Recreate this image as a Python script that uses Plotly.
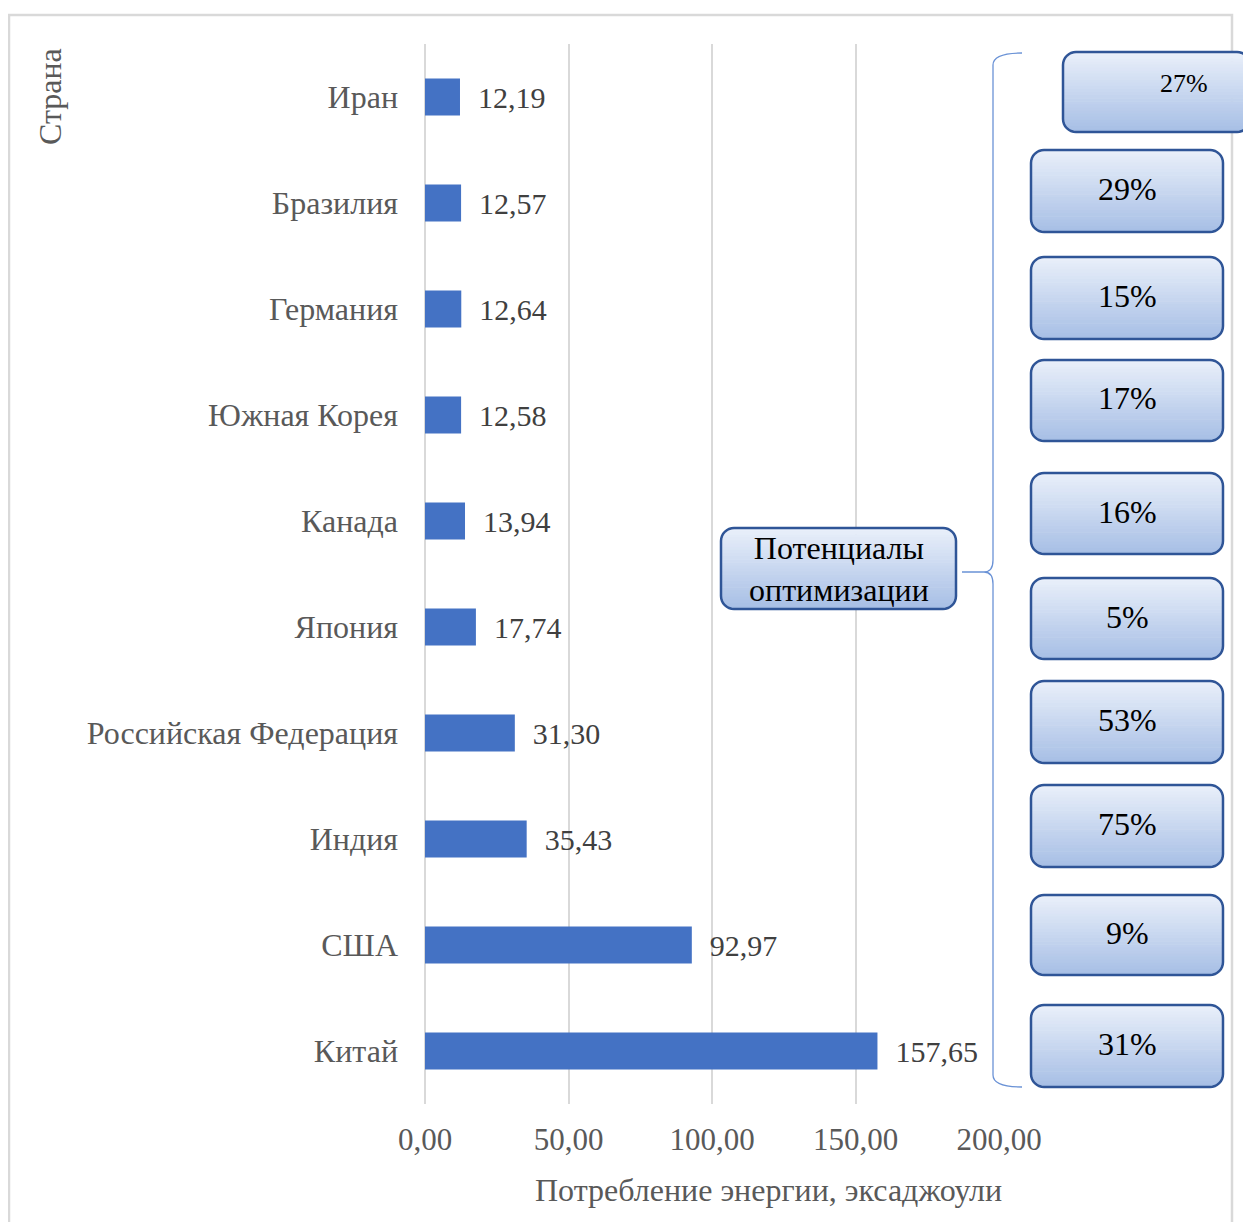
import math
import plotly.graph_objects as go

# ---------------- data ----------------
countries = ["Иран", "Бразилия", "Германия", "Южная Корея", "Канада", "Япония",
             "Российская Федерация", "Индия", "США", "Китай"]
energy = [12.19, 12.57, 12.64, 12.58, 13.94, 17.74, 31.30, 35.43, 92.97, 157.65]
potential = [27, 29, 15, 17, 16, 5, 53, 75, 9, 31]
x_ticks = [0, 50, 100, 150, 200]

x_title = "Потребление энергии, эксаджоули"
y_title = "Страна"
callout = "Потенциалы<br>оптимизации"

# ---------------- layout constants (page pixels) ----------------
OFF = 8  # page body margin
W, H = 1251 - OFF, 1222 - OFF
PL, PR, PT, PB = 425, 999, 44, 1104  # plot area in page pixels


def px(x):
    return (x - PL) / (PR - PL)


def py(y):
    return (PB - y) / (PB - PT)


FONT = "Liberation Serif, Times New Roman, serif"

# box rects for potentials (x0, y0, x1, y1) in px
box_rects = [(1063, 52, 1250, 132)] + [
    (1031, t, 1223, b) for t, b in [(150, 232), (257, 339), (360, 441), (473, 554),
                                    (578, 659), (681, 763), (785, 867), (895, 975),
                                    (1005, 1087)]]
callout_rect = (721, 528, 956, 609)

TOP_C = (234, 240, 250)
BOT_C = (166, 190, 229)
BORDER = "#2F5597"

shapes = []

# outer frame (bottom edge lies below the visible page)
shapes.append(dict(type="rect", xref="paper", yref="paper",
                   x0=px(9), x1=px(1232), y0=py(15), y1=py(1240),
                   line=dict(color="#D9D9D9", width=2.5), fillcolor="rgba(0,0,0,0)",
                   layer="below"))


def inset(y, y0, y1, r):
    d = max(0.0, (y0 + r) - y, y - (y1 - r))
    d = min(d, r)
    return r - math.sqrt(max(r * r - d * d, 0.0))


def gradient_box(rect, r=13, n=26):
    x0, y0, x1, y1 = rect
    hgt = y1 - y0
    for i in range(n):
        ya = y0 + hgt * i / n
        yb = min(y0 + hgt * (i + 1) / n + 0.6, y1)
        t = (i + 0.5) / n
        c = tuple(int(round(TOP_C[k] + (BOT_C[k] - TOP_C[k]) * t)) for k in range(3))
        ys = [ya + (yb - ya) * j / 4 for j in range(5)]
        left = [(x0 + inset(y, y0, y1, r), y) for y in ys]
        right = [(x1 - inset(y, y0, y1, r), y) for y in reversed(ys)]
        pts = left + right
        path = "M " + " L ".join(f"{px(a):.5f},{py(b):.5f}" for a, b in pts) + " Z"
        shapes.append(dict(type="path", xref="paper", yref="paper", path=path,
                           fillcolor=f"rgb{c}", line=dict(width=0), layer="above"))
    # border: rounded rect
    segs = []
    k = 8
    corners = [((x1 - r, y0 + r), -90, 0), ((x1 - r, y1 - r), 0, 90),
               ((x0 + r, y1 - r), 90, 180), ((x0 + r, y0 + r), 180, 270)]
    for (cx, cy), a0, a1 in corners:
        for j in range(k + 1):
            a = math.radians(a0 + (a1 - a0) * j / k)
            segs.append((cx + r * math.cos(a), cy + r * math.sin(a)))
    path = "M " + " L ".join(f"{px(a):.5f},{py(b):.5f}" for a, b in segs) + " Z"
    shapes.append(dict(type="path", xref="paper", yref="paper", path=path,
                       fillcolor="rgba(0,0,0,0)", line=dict(color=BORDER, width=2.5),
                       layer="above"))


for rect in box_rects:
    gradient_box(rect)
gradient_box(callout_rect)

# brace
btop, bbot, bmid, btip = 53, 1087, 572, 962
brace = [
    ("M", 1022, btop),
    ("Q", 993, btop, 993, btop + 12),
    ("L", 993, bmid - 12),
    ("Q", 993, bmid, btip + 22, bmid),
    ("L", btip, bmid),
    ("L", btip + 22, bmid),
    ("Q", 993, bmid, 993, bmid + 12),
    ("L", 993, bbot - 12),
    ("Q", 993, bbot, 1022, bbot),
]
parts = []
for seg in brace:
    cmd = seg[0]
    vals = seg[1:]
    coords = []
    for i in range(0, len(vals), 2):
        coords.append(f"{px(vals[i]):.5f},{py(vals[i + 1]):.5f}")
    parts.append(cmd + " " + " ".join(coords))
shapes.append(dict(type="path", xref="paper", yref="paper", path=" ".join(parts),
                   line=dict(color="#6A92D6", width=1.3), layer="above"))

annotations = []
for i, (rect, p) in enumerate(zip(box_rects, potential)):
    x0, y0, x1, y1 = rect
    if i == 0:
        ax_, ay_, size = 1184, 83, 26
    else:
        ax_, ay_, size = (x0 + x1) / 2, (y0 + y1) / 2 - 2, 32
    annotations.append(dict(x=px(ax_), y=py(ay_), xref="paper", yref="paper",
                            text=f"{p}%", showarrow=False,
                            font=dict(family=FONT, size=size, color="#000000"),
                            xanchor="center", yanchor="middle"))

cx0, cy0, cx1, cy1 = callout_rect
annotations.append(dict(x=px((cx0 + cx1) / 2), y=py((cy0 + cy1) / 2), xref="paper", yref="paper",
                        text=callout, showarrow=False, align="center",
                        font=dict(family=FONT, size=32, color="#000000"),
                        xanchor="center", yanchor="middle"))

annotations.append(dict(x=px(768), y=py(1190), xref="paper", yref="paper",
                        text=x_title, showarrow=False,
                        font=dict(family=FONT, size=32, color="#595959"),
                        xanchor="center", yanchor="middle"))
annotations.append(dict(x=px(50), y=py(97), xref="paper", yref="paper",
                        text=y_title, showarrow=False, textangle=-90,
                        font=dict(family=FONT, size=32, color="#595959"),
                        xanchor="center", yanchor="middle"))

labels = ["\u00a0\u00a0" + f"{v:.2f}".replace(".", ",") for v in energy]

fig = go.Figure(go.Bar(
    x=energy, y=countries, orientation="h",
    marker=dict(color="#4472C4", line=dict(width=0)),
    text=labels, texttemplate="%{text}", textposition="outside",
    textfont=dict(family=FONT, size=30, color="#404040"),
    cliponaxis=False, width=0.35,
))

fig.update_layout(
    width=W, height=H,
    margin=dict(l=PL - OFF, r=W - (PR - OFF), t=PT - OFF, b=H - (PB - OFF), autoexpand=False),
    paper_bgcolor="white", plot_bgcolor="white",
    separators=", ",
    showlegend=False,
    font=dict(family=FONT),
    xaxis=dict(range=[0, 200], tickvals=x_ticks, tickformat=".2f",
               showgrid=True, gridcolor="#D9D9D9", gridwidth=2,
               zeroline=True, zerolinecolor="#D9D9D9", zerolinewidth=2,
               showline=False, ticks="", ticklabelstandoff=14,
               tickfont=dict(family=FONT, size=31, color="#595959")),
    yaxis=dict(type="category", autorange="reversed", showgrid=False,
               showline=False, zeroline=False, ticks="", ticklabelstandoff=26,
               tickfont=dict(family=FONT, size=32, color="#595959")),
    shapes=shapes,
    annotations=annotations,
)

fig.write_html("out.html")
